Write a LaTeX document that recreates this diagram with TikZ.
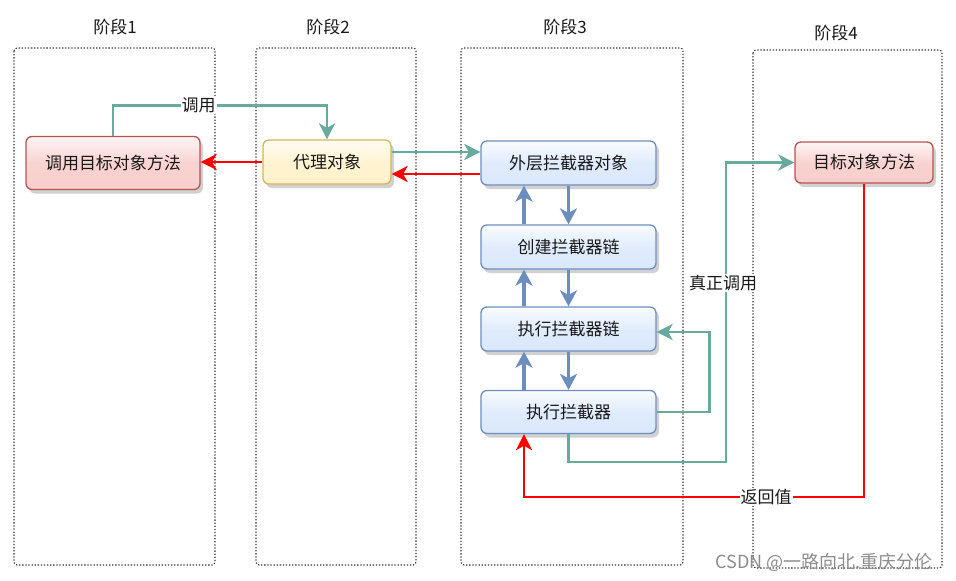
\documentclass[tikz,border=0pt]{standalone}
\usepackage{fontspec}
\setmainfont{Noto Sans CJK SC}
\usetikzlibrary{arrows.meta,shadows,calc}
\definecolor{gline}{HTML}{67AB9F}
\definecolor{rline}{HTML}{FF0000}
\definecolor{bline}{HTML}{6C8EBF}
\definecolor{bfill}{HTML}{DAE8FC}
\definecolor{rfill}{HTML}{F8CECC}
\definecolor{rstroke}{HTML}{B85450}
\definecolor{yfill}{HTML}{FFF2CC}
\definecolor{ystroke}{HTML}{D6B656}
\tikzset{
  every node/.style={font=\fontsize{17}{20}\selectfont},
  stage/.style={draw=black!80, line width=1.1pt, dash pattern=on 1.3pt off 1.8pt, rounded corners=3pt},
  boxbase/.style={rounded corners=6pt, line width=1.3pt, inner sep=0pt, text=black!90,
    drop shadow={shadow xshift=3pt, shadow yshift=-4pt, opacity=0.4, fill=black!45}},
  bluebox/.style={boxbase, draw=bline, top color=white!85!bfill, bottom color=bfill, middle color=bfill!85!white},
  redbox/.style={boxbase, draw=rstroke, top color=white!80!rfill, bottom color=rfill, middle color=rfill!90!white},
  yellowbox/.style={boxbase, draw=ystroke, top color=white!80!yfill, bottom color=yfill, middle color=yfill!90!white},
  garrow/.style={draw=gline, line width=2.8pt, -{Stealth[length=16pt,width=16pt,inset=4.5pt]}},
  rarrow/.style={draw=rline, line width=2.8pt, -{Stealth[length=16pt,width=16pt,inset=4.5pt]}},
  barrow/.style={draw=bline, line width=3.2pt, -{Stealth[length=16pt,width=17pt,inset=4.5pt]}},
  lbl/.style={fill=white, inner sep=1pt, text=black!90}
}
\begin{document}
\begin{tikzpicture}[x=1pt,y=-1pt]
\useasboundingbox (0,0) rectangle (956,581);
% stages
\draw[stage] (14,48) rectangle (215,565);
\draw[stage] (256,48) rectangle (416,565);
\draw[stage] (461,48) rectangle (683,565);
\draw[stage] (753,50) rectangle (942,568);
\node[text=black!90] (t1) at (115,27) {阶段1};
\node[text=black!90] (t2) at (328,27) {阶段2};
\node[text=black!90] (t3) at (565,27) {阶段3};
\node[text=black!90] (t4) at (836,33) {阶段4};
% boxes
\node[redbox, minimum width=174pt, minimum height=53pt] (call) at (113,163) {调用目标对象方法};
\node[yellowbox, minimum width=128pt, minimum height=44pt] (proxy) at (327,162) {代理对象};
\node[bluebox, minimum width=175pt, minimum height=44pt] (outer) at (568.5,163) {外层拦截器对象};
\node[bluebox, minimum width=175pt, minimum height=44pt] (create) at (568.5,247) {创建拦截器链};
\node[bluebox, minimum width=175pt, minimum height=44pt] (chain) at (568.5,329) {执行拦截器链};
\node[bluebox, minimum width=175pt, minimum height=43pt] (exec) at (568.5,412) {执行拦截器};
\node[redbox, minimum width=138pt, minimum height=41pt] (target) at (864,162.5) {目标对象方法};
% green call
\draw[garrow] (call.north) -- ++(0,-30.5) -| node[lbl, pos=0.2] {调用} (proxy.north);
\draw[garrow] ([yshift=10pt]proxy.east) -- ([yshift=10pt]proxy.east -| outer.west);
\draw[rarrow] ([yshift=-11pt]outer.west) -- ([yshift=-11pt]outer.west -| proxy.east);
\draw[rarrow] (proxy.west) -- (proxy.west -| call.east);
% blue
\draw[barrow] ([xshift=-44.5pt]create.north) -- ([xshift=-44.5pt]outer.south);
\draw[barrow] (outer.south) -- (create.north);
\draw[barrow] ([xshift=-44.5pt]chain.north) -- ([xshift=-44.5pt]create.south);
\draw[barrow] (create.south) -- (chain.north);
\draw[barrow] ([xshift=-44.5pt]exec.north) -- ([xshift=-44.5pt]chain.south);
\draw[barrow] (chain.south) -- (exec.north);
% green exec -> chain
\draw[garrow] (exec.east) -- ++(53,0) |- ([yshift=-3pt]chain.east);
% green exec -> target
\draw[garrow] (exec.south) |- (726,462) |- (target.west);
\node[lbl] (l2) at (723,283) {真正调用};
% red return
\draw[rarrow] (target.south) |- (524,497) -- ([xshift=-44.5pt]exec.south);
\node[lbl] (l3) at (766,497) {返回值};
% watermark
\node[text=black!45, font=\fontsize{18}{21}\selectfont] (wm) at (824,562) {CSDN @一路向北.重庆分伦};
\end{tikzpicture}
\end{document}
